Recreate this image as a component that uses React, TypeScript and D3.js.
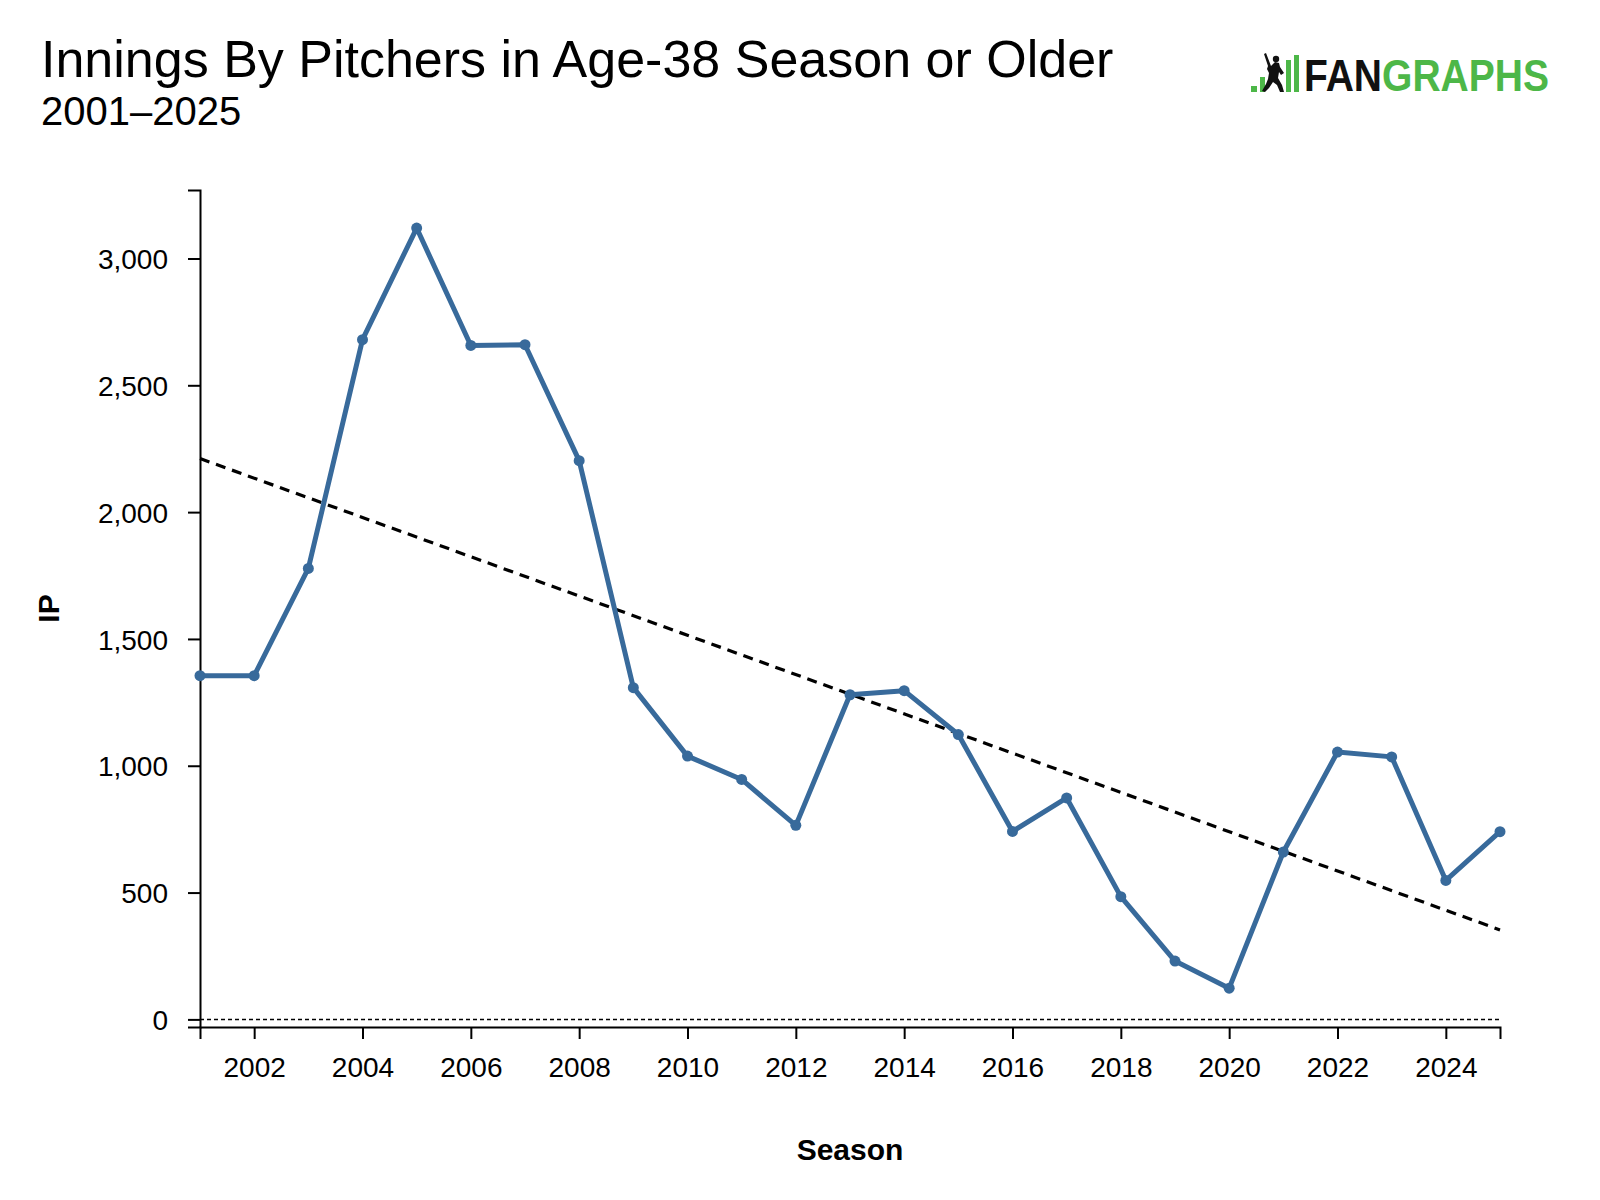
import { useEffect, useRef } from "react"
import * as d3 from "d3"

// Datos: entradas lanzadas por pitchers de 38 años o más
const temporadas = [
  2001, 2002, 2003, 2004, 2005, 2006, 2007, 2008, 2009, 2010, 2011, 2012, 2013,
  2014, 2015, 2016, 2017, 2018, 2019, 2020, 2021, 2022, 2023, 2024, 2025,
]
const entradas = [
  1355, 1355, 1778, 2680, 3120, 2657, 2660, 2203, 1308, 1038, 946, 765, 1280,
  1296, 1123, 741, 873, 484, 230, 123, 660, 1054, 1035, 548, 740,
]
const ticksX = [2002, 2004, 2006, 2008, 2010, 2012, 2014, 2016, 2018, 2020, 2022, 2024]
const ticksY = [0, 500, 1000, 1500, 2000, 2500, 3000]

const titulo = "Innings By Pitchers in Age-38 Season or Older"
const subtitulo = "2001–2025"
const etiquetaX = "Season"
const etiquetaY = "IP"

const FUENTE = "'Liberation Sans', Arial, Helvetica, sans-serif"
const AZUL = "#386a9b"
const VERDE = "#4db748"

export default function App() {
  const svgRef = useRef<SVGSVGElement>(null)

  useEffect(() => {
    if (!svgRef.current) return
    const svg = d3.select(svgRef.current)
    svg.selectAll("*").remove()

    const width = 1600
    const margin = { top: 190, right: 100, bottom: 173, left: 200 }
    const innerW = width - margin.left - margin.right
    const innerH = 1200 - margin.top - margin.bottom

    // Títulos
    svg.append("text")
      .attr("x", 41).attr("y", 77)
      .style("font-family", FUENTE).style("font-size", "52px")
      .text(titulo)
    svg.append("text")
      .attr("x", 41).attr("y", 125)
      .style("font-family", FUENTE).style("font-size", "40px")
      .text(subtitulo)

    // Logo FanGraphs
    const logo = svg.append("g").attr("transform", "translate(1251,52)")
    logo.append("rect").attr("x", 0).attr("y", 34).attr("width", 6).attr("height", 6).attr("fill", VERDE)
    logo.append("rect").attr("x", 9).attr("y", 25).attr("width", 5).attr("height", 15).attr("fill", VERDE)
    logo.append("rect").attr("x", 35).attr("y", 8).attr("width", 5).attr("height", 32).attr("fill", VERDE)
    logo.append("rect").attr("x", 43).attr("y", 3).attr("width", 5).attr("height", 37).attr("fill", VERDE)
    logo.append("path")
      .attr("d", "M13,2 L15,1 L20,14 L24,10 L28,11 L29,15 L33,21 L30,23 L28,20 L27,26 L31,33 L33,40 L29,40 L26,33 L22,30 L18,36 L14,40 L11,39 L15,32 L17,27 L18,21 L16,17 L17,14 Z")
      .attr("fill", "#111")
    logo.append("circle").attr("cx", 25).attr("cy", 7).attr("r", 3.2).attr("fill", "#111")
    const marca = logo.append("text")
      .attr("x", 53).attr("y", 39)
      .attr("textLength", 245).attr("lengthAdjust", "spacingAndGlyphs")
      .style("font-family", FUENTE).style("font-size", "44px").style("font-weight", "bold")
    marca.append("tspan").attr("fill", "#111").text("FAN")
    marca.append("tspan").attr("fill", VERDE).text("GRAPHS")

    const g = svg.append("g").attr("transform", `translate(${margin.left},${margin.top})`)

    // Escalas
    const x = d3.scaleLinear().domain([2001, 2025]).range([0, innerW])
    const y = d3.scaleLinear().domain([-30, 3270]).range([innerH, 0])

    // Ejes
    const ejeX = g.append("g")
      .attr("transform", `translate(0,${innerH})`)
      .call(d3.axisBottom(x).tickValues(ticksX).tickFormat(d3.format("d")).tickSize(12).tickSizeOuter(12).tickPadding(18))
    const ejeY = g.append("g")
      .call(d3.axisLeft(y).tickValues(ticksY).tickFormat(d3.format(",")).tickSize(12).tickSizeOuter(12).tickPadding(20))

    ;[ejeX, ejeY].forEach((eje) => {
      eje.selectAll("path, line").attr("stroke", "#000").attr("stroke-width", 2)
      eje.selectAll("text").style("font-family", FUENTE).style("font-size", "28px").attr("fill", "#000")
    })
    ejeY.selectAll("text").attr("dy", "0.36em")

    // Línea de cero punteada
    g.append("line")
      .attr("x1", 0).attr("x2", innerW)
      .attr("y1", y(0)).attr("y2", y(0))
      .attr("stroke", "#000").attr("stroke-width", 1.5)
      .attr("stroke-dasharray", "4,3")

    // Tendencia lineal (mínimos cuadrados)
    const mx = d3.mean(temporadas)!
    const my = d3.mean(entradas)!
    const sxy = d3.sum(temporadas, (t, i) => (t - mx) * (entradas[i] - my))
    const sxx = d3.sum(temporadas, (t) => (t - mx) ** 2)
    const pendiente = sxy / sxx
    const tendencia = (t: number) => my + pendiente * (t - mx)
    const t0 = temporadas[0]
    const t1 = temporadas[temporadas.length - 1]
    g.append("line")
      .attr("x1", x(t0)).attr("y1", y(tendencia(t0)))
      .attr("x2", x(t1)).attr("y2", y(tendencia(t1)))
      .attr("stroke", "#000").attr("stroke-width", 3.2)
      .attr("stroke-dasharray", "10,7")

    // Serie
    const datos = temporadas.map((t, i) => ({ t, v: entradas[i] }))
    const linea = d3.line<{ t: number; v: number }>().x((d) => x(d.t)).y((d) => y(d.v))
    g.append("path")
      .datum(datos)
      .attr("d", linea)
      .attr("fill", "none")
      .attr("stroke", AZUL)
      .attr("stroke-width", 5)
      .attr("stroke-linejoin", "round")
    g.selectAll(".punto")
      .data(datos)
      .enter()
      .append("circle")
      .attr("class", "punto")
      .attr("cx", (d) => x(d.t))
      .attr("cy", (d) => y(d.v))
      .attr("r", 5.5)
      .attr("fill", AZUL)

    // Etiquetas de ejes
    svg.append("text")
      .attr("x", margin.left + innerW / 2).attr("y", 1160)
      .attr("text-anchor", "middle")
      .style("font-family", FUENTE).style("font-size", "30px").style("font-weight", "bold")
      .text(etiquetaX)
    svg.append("text")
      .attr("transform", `translate(59,${margin.top + innerH / 2}) rotate(-90)`)
      .attr("text-anchor", "middle")
      .style("font-family", FUENTE).style("font-size", "30px").style("font-weight", "bold")
      .text(etiquetaY)
  }, [])

  return (
    <svg
      ref={svgRef}
      width={1600}
      height={1200}
      style={{ position: "absolute", left: 0, top: 0, background: "#fff" }}
    />
  )
}
